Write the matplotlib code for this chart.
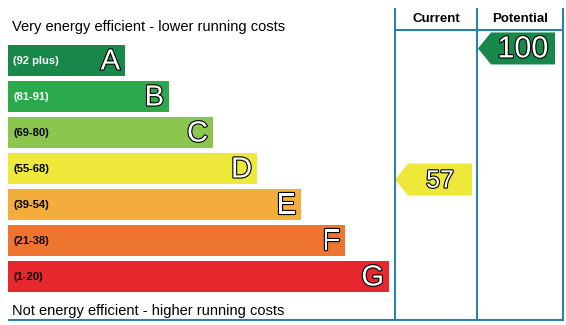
import matplotlib
matplotlib.use("Agg")
import matplotlib.pyplot as plt
import matplotlib.patheffects as pe
from matplotlib.patches import Polygon, Rectangle

plt.rcParams["font.family"] = ["Liberation Sans", "DejaVu Sans"]

# energy bands, top (best) to bottom
BANDS = ["A", "B", "C", "D", "E", "F", "G"]
RANGES = ["(92 plus)", "(81-91)", "(69-80)", "(55-68)", "(39-54)", "(21-38)", "(1-20)"]
LOWS = [92, 81, 69, 55, 39, 21, 1]
HIGHS = [100, 91, 80, 68, 54, 38, 20]
COLORS = ["#17884a", "#2caa4b", "#8dc64e", "#ede83a", "#f4ac3c", "#ee7431", "#e6282e"]
RANGE_TEXT = ["white", "white", "black", "black", "black", "black", "black"]
CURRENT = 57
POTENTIAL = 100

LINE = "#2b84a8"
W, H = 566, 325
X0, BAR_TOP, BAR_H, PITCH = 8, 45, 31, 36
BAR_W0, BAR_STEP = 117, 44
COL_CUR, COL_POT, COL_END = 395, 477, 563

fig = plt.figure(figsize=(W / 100, H / 100), dpi=100)
ax = fig.add_axes([0, 0, 1, 1])
ax.set_xlim(0, W)
ax.set_ylim(H, 0)
ax.axis("off")

outline = [pe.withStroke(linewidth=1.6, foreground="black")]


def band_of(score):
    for i, (lo, hi) in enumerate(zip(LOWS, HIGHS)):
        if lo <= score <= hi:
            return i
    return len(BANDS) - 1


def score_y(score):
    i = band_of(score)
    top = BAR_TOP + i * PITCH
    return top + (HIGHS[i] + 1 - score) / (HIGHS[i] + 1 - LOWS[i]) * BAR_H


def arrow(x_left, score, fs):
    i = band_of(score)
    yc = score_y(score)
    w, h, tip = 77, 32, 13
    pts = [(x_left, yc), (x_left + tip, yc - h / 2), (x_left + w, yc - h / 2),
           (x_left + w, yc + h / 2), (x_left + tip, yc + h / 2)]
    ax.add_patch(Polygon(pts, closed=True, color=COLORS[i], lw=0))
    ax.text(x_left + tip + (w - tip) / 2, yc + 1, str(score), ha="center", va="center",
            fontsize=fs, color="white", path_effects=outline)


for i, (band, rng, col) in enumerate(zip(BANDS, RANGES, COLORS)):
    top = BAR_TOP + i * PITCH
    bw = BAR_W0 + i * BAR_STEP
    ax.add_patch(Rectangle((X0, top), bw, BAR_H, color=col, lw=0))
    ax.text(X0 + 5, top + BAR_H / 2 + 0.5, rng, ha="left", va="center",
            fontsize=8, fontweight="bold", color=RANGE_TEXT[i])
    ax.text(X0 + bw - 5, top + BAR_H / 2 + 1, band, ha="right", va="center",
            fontsize=21, color="white", path_effects=outline)

ax.text(12, 31, "Very energy efficient - lower running costs", ha="left",
        va="baseline", fontsize=10.5, color="black")
ax.text(12, 315, "Not energy efficient - higher running costs", ha="left",
        va="baseline", fontsize=10.5, color="black")

ax.text((COL_CUR + COL_POT) / 2, 22, "Current", ha="center", va="baseline",
        fontsize=9.5, fontweight="bold")
ax.text((COL_POT + COL_END) / 2, 22, "Potential", ha="center", va="baseline",
        fontsize=9.5, fontweight="bold")

# frame
lw = 1.5
for x in (COL_CUR, COL_POT, COL_END):
    ax.plot([x, x], [8, 321], color=LINE, lw=lw, solid_capstyle="butt")
ax.plot([COL_CUR, COL_END], [30, 30], color=LINE, lw=lw)
ax.plot([X0, COL_END + 0.7], [320, 320], color=LINE, lw=lw, solid_capstyle="butt")

arrow(COL_CUR, CURRENT, 18)
arrow(COL_POT + 1, POTENTIAL, 22)

fig.savefig("out.png", dpi=100)
